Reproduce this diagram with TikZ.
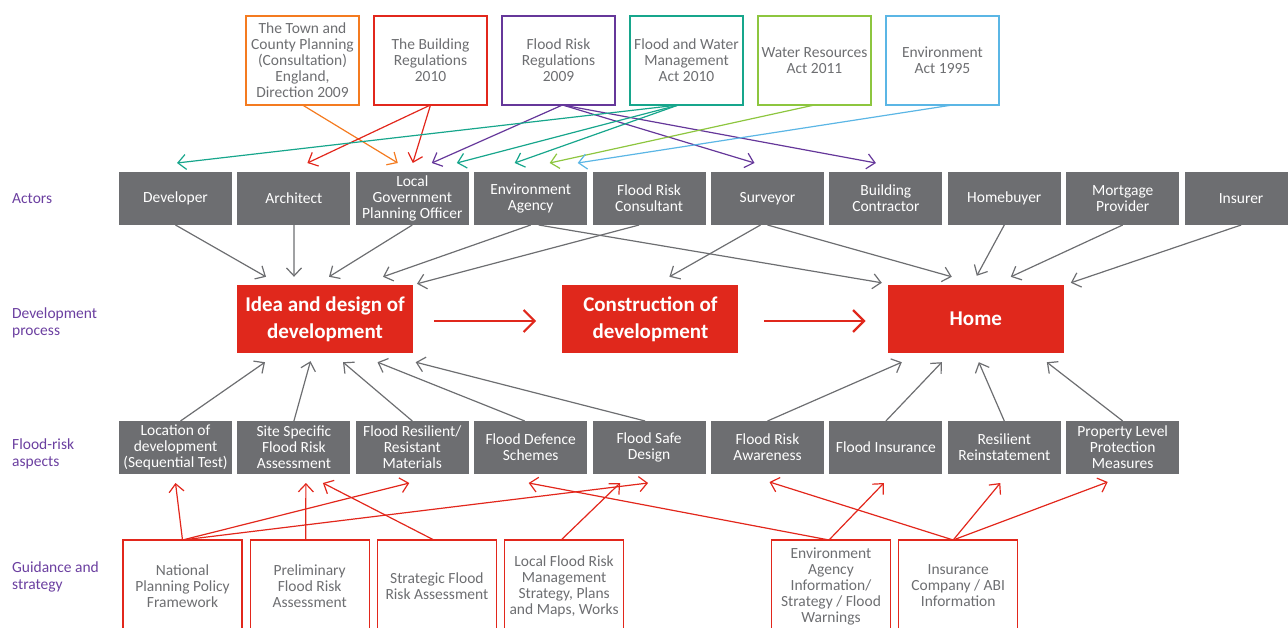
\documentclass[tikz,border=0pt]{standalone}
\usepackage{fontspec}
\setmainfont{Carlito}
\usepackage{tikz}
\usetikzlibrary{positioning,arrows.meta}
\usepackage{xcolor}
\definecolor{boxgrey}{HTML}{6D6E71}
\definecolor{procred}{HTML}{E0281C}
\definecolor{lawred}{HTML}{E2271C}
\definecolor{laworange}{HTML}{F47B20}
\definecolor{lawpurple}{HTML}{65379A}
\definecolor{lawteal}{HTML}{17A68C}
\definecolor{lawgreen}{HTML}{8DC63F}
\definecolor{lawblue}{HTML}{5BB6E5}
\definecolor{lblpurple}{HTML}{6B3FA0}

\begin{document}
\begin{tikzpicture}[x=1pt, y=-1pt,
  txt/.style = {font=\fontsize{15.5}{16}\selectfont, align=center, inner sep=0pt, outer sep=0pt},
  law/.style = {txt, draw, line width=1.3pt, text=boxgrey, minimum width=113pt, minimum height=89pt},
  act/.style = {txt, fill=boxgrey, text=white, minimum width=113pt, minimum height=53pt},
  proc/.style = {fill=procred, text=white, font=\bfseries\fontsize{21}{27}\selectfont, align=center, inner sep=0pt, minimum width=176pt, minimum height=68pt},
  guide/.style = {txt, draw=lawred, line width=1.3pt, text=boxgrey, minimum width=119pt, minimum height=92pt},
  lbl/.style = {font=\fontsize{15.5}{16.5}\selectfont, text=lblpurple, align=left, anchor=west, inner sep=0pt},
  arr/.style = {line width=1.2pt, -{Straight Barb[length=8pt,width=15pt]}},
  garr/.style = {arr, draw=boxgrey},
  rarr/.style = {arr, draw=lawred},
  bigarr/.style = {draw=procred, line width=2.2pt, -{Straight Barb[length=11pt,width=22pt]}}]
\useasboundingbox (0,0) rectangle (1288,628);
\clip (0,0) rectangle (1288,628);

% row labels
\node[lbl] (lact) at (12,199) {Actors};
\node[lbl] (ldev) at (12,323) {Development\\process};
\node[lbl] (lasp) at (12,454) {Flood-risk\\aspects};
\node[lbl] (lgui) at (12,577) {Guidance and\\strategy};

% legislation
\node[law, draw=laworange] (tcp) at (302.5,60.5) {The Town and\\County Planning\\(Consultation)\\England,\\Direction 2009};
\node[law, draw=lawred] (bregs) [right=15pt of tcp] {The Building\\Regulations\\2010};
\node[law, draw=lawpurple] (frr) [right=15pt of bregs] {Flood Risk\\Regulations\\2009};
\node[law, draw=lawteal] (fwma) [right=15pt of frr] {Flood and Water\\Management\\Act 2010};
\node[law, draw=lawgreen] (wra) [right=15pt of fwma] {Water Resources\\Act 2011};
\node[law, draw=lawblue] (envact) [right=15pt of wra] {Environment\\Act 1995};

% actors
\node[act] (dev) at (175.5,198.5) {Developer};
\node[act] (arch) [right=5.4pt of dev] {Architect};
\node[act] (lgpo) [right=5.4pt of arch] {Local\\Government\\Planning Officer};
\node[act] (ea) [right=5.4pt of lgpo] {Environment\\Agency};
\node[act] (frc) [right=5.4pt of ea] {Flood Risk\\Consultant};
\node[act] (surv) [right=5.4pt of frc] {Surveyor};
\node[act] (bc) [right=5.4pt of surv] {Building\\Contractor};
\node[act] (hb) [right=5.4pt of bc] {Homebuyer};
\node[act] (mp) [right=5.4pt of hb] {Mortgage\\Provider};
\node[act] (ins) [right=5.4pt of mp] {Insurer};

% development process
\node[proc] (idea) at (325,319) {Idea and design of\\development};
\node[proc] (constr) [right=149pt of idea] {Construction of\\development};
\node[proc] (home) [right=149pt of constr] {Home};

% flood-risk aspects
\node[act] (loc) at (175.5,447.5) {Location of\\development\\(Sequential Test)};
\node[act] (ssfra) [right=5.4pt of loc] {Site Specific\\Flood Risk\\Assessment};
\node[act] (frrm) [right=5.4pt of ssfra] {Flood Resilient/\\Resistant\\Materials};
\node[act] (fds) [right=5.4pt of frrm] {Flood Defence\\Schemes};
\node[act] (fsd) [right=5.4pt of fds] {Flood Safe\\Design};
\node[act] (fra) [right=5.4pt of fsd] {Flood Risk\\Awareness};
\node[act] (fins) [right=5.4pt of fra] {Flood Insurance};
\node[act] (rr) [right=5.4pt of fins] {Resilient\\Reinstatement};
\node[act] (plp) [right=5.4pt of rr] {Property Level\\Protection\\Measures};

% guidance and strategy
\node[guide] (nppf) at (182.5,586) {National\\Planning Policy\\Framework};
\node[guide] (pfra) [right=8.2pt of nppf] {Preliminary\\Flood Risk\\Assessment};
\node[guide] (sfra) [right=8.2pt of pfra] {Strategic Flood\\Risk Assessment};
\node[guide] (lfrm) [right=8.2pt of sfra] {Local Flood Risk\\Management\\Strategy, Plans\\and Maps, Works};
\node[guide] (eainfo) at (831,586) {Environment\\Agency\\Information/\\Strategy / Flood\\Warnings};
\node[guide] (abi) [right=8.2pt of eainfo] {Insurance\\Company / ABI\\Information};

% legislation to actors
\draw[arr, laworange] (tcp.south) -- ([xshift=-14.5pt,yshift=9pt]lgpo.north);
\draw[arr, lawred] (bregs.south) -- ([xshift=13.5pt,yshift=9pt]arch.north);
\draw[arr, lawred] (bregs.south) -- ([xshift=0.5pt,yshift=9pt]lgpo.north);
\draw[arr, lawpurple] ([xshift=4pt]frr.south) -- ([xshift=19.5pt,yshift=9pt]lgpo.north);
\draw[arr, lawpurple] ([xshift=4pt]frr.south) -- ([xshift=-13pt,yshift=9pt]surv.north);
\draw[arr, lawpurple] ([xshift=4pt]frr.south) -- ([xshift=-10pt,yshift=9pt]bc.north);
\draw[arr, lawteal] ([xshift=-8pt]fwma.south) -- ([xshift=1.5pt,yshift=9pt]dev.north);
\draw[arr, lawteal] ([xshift=-8pt]fwma.south) -- ([xshift=44.5pt,yshift=9pt]lgpo.north);
\draw[arr, lawteal] ([xshift=-8pt]fwma.south) -- ([xshift=-16pt,yshift=9pt]ea.north);
\draw[arr, lawgreen] (wra.south) -- ([xshift=19pt,yshift=9pt]ea.north);
\draw[arr, lawblue] ([xshift=10pt]envact.south) -- ([xshift=47pt,yshift=9pt]ea.north);

% actors to development process
\draw[garr] (dev.south) -- ([xshift=-59pt,yshift=8pt]idea.north);
\draw[garr] (arch.south) -- ([xshift=-31pt,yshift=8pt]idea.north);
\draw[garr] (lgpo.south) -- ([xshift=4pt,yshift=8pt]idea.north);
\draw[garr] (ea.south) -- ([xshift=58pt,yshift=8pt]idea.north);
\draw[garr] ([xshift=-10pt]frc.south) -- ([xshift=92pt,yshift=1pt]idea.north);
\draw[garr] ([xshift=8pt]ea.south) -- ([xshift=-94pt,yshift=2pt]home.north);
\draw[garr] ([xshift=-7pt]surv.south) -- ([xshift=19pt,yshift=8pt]constr.north);
\draw[garr] (surv.south) -- ([xshift=-24pt,yshift=8pt]home.north);
\draw[garr] (hb.south) -- ([xshift=1pt,yshift=9pt]home.north);
\draw[garr] (mp.south) -- ([xshift=35pt,yshift=8pt]home.north);
\draw[garr] (ins.south) -- ([xshift=95pt,yshift=2pt]home.north);

% process
\draw[bigarr, shorten <=21pt, shorten >=26pt] ([yshift=-2pt]idea.east) -- ([yshift=-2pt]constr.west);
\draw[bigarr, shorten <=25.5pt, shorten >=22pt] ([yshift=-2pt]constr.east) -- ([yshift=-2pt]home.west);

% aspects to development process
\draw[garr] ([xshift=5pt]loc.north) -- ([xshift=-60pt,yshift=-9pt]idea.south);
\draw[garr] (ssfra.north) -- ([xshift=-14.5pt,yshift=-8pt]idea.south);
\draw[garr] (frrm.north) -- ([xshift=18pt,yshift=-9pt]idea.south);
\draw[garr] ([xshift=-6pt]fds.north) -- ([xshift=52.5pt,yshift=-9pt]idea.south);
\draw[garr] ([xshift=-4pt]fsd.north) -- ([xshift=90.7pt,yshift=-9pt]idea.south);
\draw[garr] (fra.north) -- ([xshift=-74pt,yshift=-9pt]home.south);
\draw[garr] (fins.north) -- ([xshift=-34pt,yshift=-9pt]home.south);
\draw[garr] (rr.north) -- ([xshift=3pt,yshift=-9pt]home.south);
\draw[garr] (plp.north) -- ([xshift=71pt,yshift=-9pt]home.south);

% guidance to aspects
\draw[rarr] (nppf.north) -- ([yshift=-9pt]loc.south);
\draw[rarr] (nppf.north) -- ([xshift=-3pt,yshift=-9pt]frrm.south);
\draw[rarr] (nppf.north) -- ([xshift=-1pt,yshift=-9pt]fsd.south);
\draw[rarr] ([xshift=-4pt]pfra.north) -- ([xshift=12pt,yshift=-9pt]ssfra.south);
\draw[rarr] ([xshift=-3pt]sfra.north) -- ([xshift=29pt,yshift=-9pt]ssfra.south);
\draw[rarr] ([xshift=-3pt]lfrm.north) -- ([xshift=-29pt,yshift=-9pt]fsd.south);
\draw[rarr] ([xshift=-2pt]eainfo.north) -- ([xshift=-2pt,yshift=-9pt]fds.south);
\draw[rarr] ([xshift=-2pt]eainfo.north) -- ([xshift=-2pt,yshift=-9pt]fins.south);
\draw[rarr] ([xshift=-5pt]abi.north) -- ([xshift=2pt,yshift=-8pt]fra.south);
\draw[rarr] ([xshift=-5pt]abi.north) -- ([xshift=-4pt,yshift=-9pt]rr.south);
\draw[rarr] ([xshift=-5pt]abi.north) -- ([xshift=-15pt,yshift=-8pt]plp.south);
\end{tikzpicture}
\end{document}
